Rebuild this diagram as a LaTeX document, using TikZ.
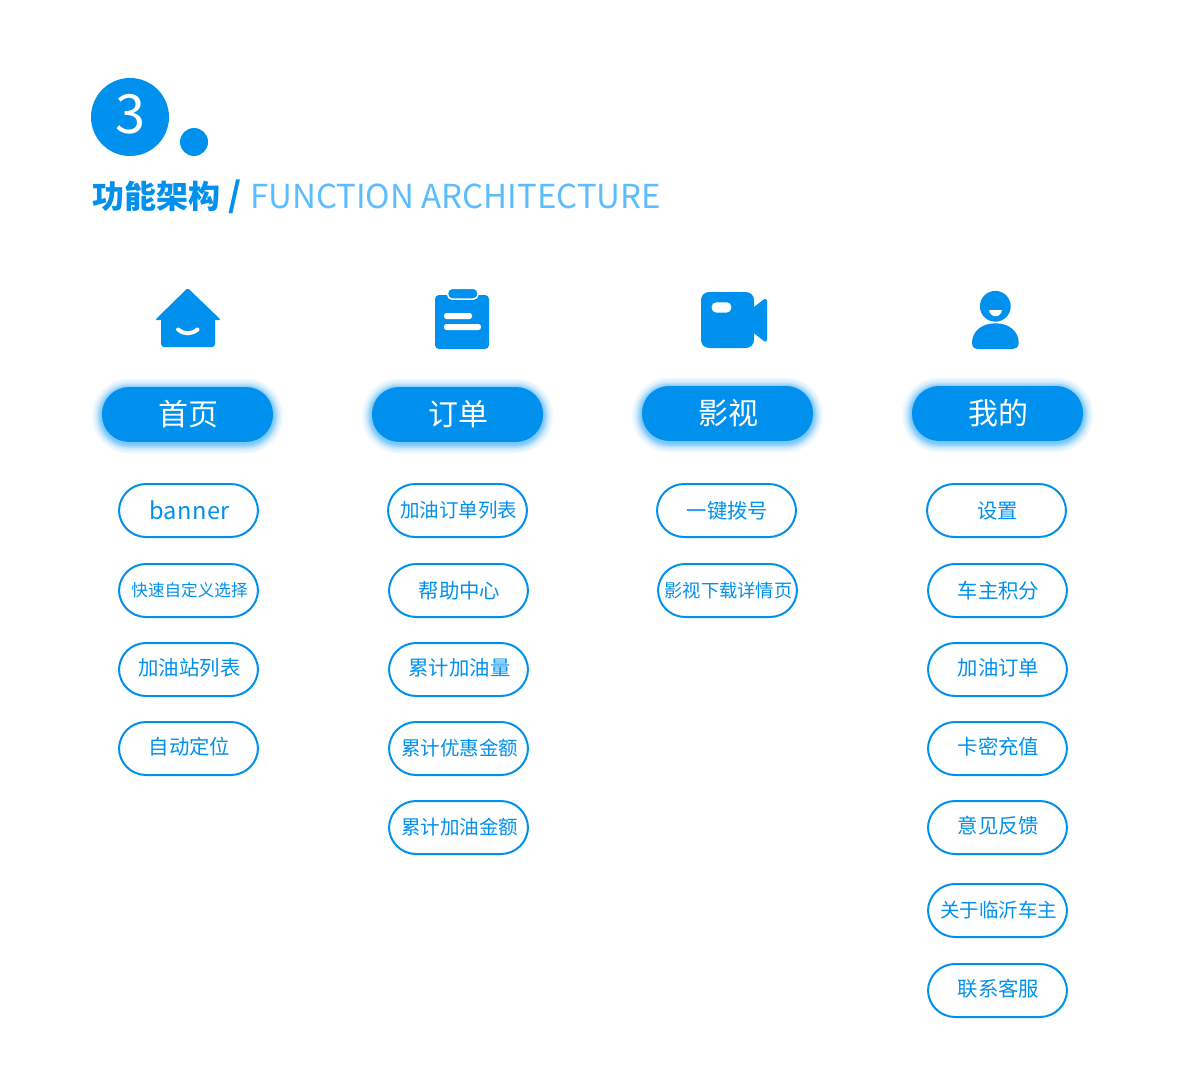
\documentclass[tikz,border=0pt]{standalone}
\usepackage{fontspec}
\setmainfont{Noto Sans CJK SC}
\usetikzlibrary{backgrounds}
\definecolor{mainblue}{HTML}{0091EE}
\definecolor{lightblue}{HTML}{5BBDFF}
\newfontfamily\trackedfont[LetterSpace=2]{Noto Sans CJK SC}
\tikzset{
  headpill/.style={rectangle, rounded corners=27pt, minimum width=171pt, minimum height=55pt, inner sep=0, fill=mainblue, text=white, font=\fontsize{30}{36}\selectfont, execute at begin node={\hspace*{2pt}}},
  pillglow/.style={rectangle, rounded corners=27pt, minimum width=171pt, minimum height=55pt, inner sep=0, draw=mainblue, opacity=0.05},
  itempill/.style={rectangle, rounded corners=27pt, minimum width=139pt, minimum height=53pt, inner sep=0, draw=mainblue, line width=2pt, fill=white, text=mainblue, font=\fontsize{20.4}{24}\selectfont, execute at begin node={\hspace*{2pt}}},
  smallitem/.style={itempill, font=\fontsize{19.5}{24}\selectfont},
  tinyitem/.style={itempill, font=\fontsize{18.3}{24}\selectfont},
  minitem/.style={itempill, font=\fontsize{16.6}{24}\selectfont},
  raised/.style={text height=14pt, text depth=2pt},
  iconfill/.style={fill=mainblue, draw=none},
  iconcut/.style={fill=white, draw=none},
}
\begin{document}
\begin{tikzpicture}[x=1pt,y=-1pt]
\useasboundingbox (0,0) rectangle (1200,1081);

    % Section number
    \fill[mainblue] (130,117) circle (39);
    \fill[mainblue] (194,142) circle (14);
    \node (num) at (130.5,114) [text=white, inner sep=0, font=\fontsize{54}{60}\selectfont] {3};

    % Title
    \node (titlecn) at (92,196) [anchor=west, inner sep=0, text=mainblue, font=\fontsize{32}{38}\selectfont\bfseries] {功能架构};
    \node (slash) at (235.5,197) [inner sep=0, text=mainblue, font=\fontsize{34}{40}\selectfont\bfseries] {/};
    \node (titleen) at (250,196) [anchor=west, inner sep=0, text=lightblue, font=\fontsize{33}{38}\selectfont] {FUNCTION ARCHITECTURE};

    % Icon: house
    \fill[iconfill, rounded corners=1.5pt] (187.7,288) -- (221,320) -- (155,320) -- cycle;
    \fill[iconfill, rounded corners=3pt] (161,316) rectangle (215,347);
    \draw[white, line width=4pt, line cap=round] (178,329.5) .. controls (183,334.5) and (192,334.5) .. (197.5,329.5);

    % Icon: clipboard
    \fill[iconfill, rounded corners=4pt] (435,295) rectangle (489,349);
    \fill[mainblue, draw=white, line width=1.5pt, rounded corners=4.5pt] (447.6,288.3) rectangle (478,299);
    \fill[iconcut, rounded corners=2.5pt] (444,313) rectangle (472,319);
    \fill[iconcut, rounded corners=2.5pt] (444,324) rectangle (481,330);

    % Icon: camera
    \fill[iconfill, rounded corners=8pt] (701,292) rectangle (754,348);
    \fill[iconfill, rounded corners=4pt] (750,310) -- (767,297) -- (767,343.5) -- (750,330) -- cycle;
    \fill[iconcut, rounded corners=4.5pt] (711.7,302.3) rectangle (731.3,312.5);

    % Icon: person
    \fill[mainblue] (995.3,306.3) circle (15.4);
    \fill[white] (989.2,310) -- (1002,310) .. controls (1001.5,314) and (998.5,316.3) .. (995.6,316.3) .. controls (992.5,316.3) and (989.5,314) .. (989.2,310) -- cycle;
    \fill[iconfill] (972,343) .. controls (972,331) and (982,323.3) .. (995.3,323.3) .. controls (1009,323.3) and (1018.7,331) .. (1018.7,343) .. controls (1018.7,347) and (1016,349) .. (1013,349) -- (978,349) .. controls (974.5,349) and (972,347) .. (972,343) -- cycle;

    % Glow under the header pills
    \begin{scope}[on background layer]
    \foreach \cx/\cy in {187.5/416,457.5/416,727.5/415,997.5/415}
        \foreach \g in {1,2,3,4,5,6,7,8,9,10,12,14,17,20}
            \node at (\cx,\cy) [pillglow, line width=\g pt] {};
    \end{scope}

    % Header pills
    \node (home) at (187.5,414.5) [headpill] {首页};
    \node (orders) at (457.5,414.5) [headpill] {订单};
    \node (video) at (727.5,413.5) [headpill] {影视};
    \node (mine) at (997.5,413.5) [headpill] {我的};

    % Column 1
    \node (banner) at (188.5,510.5) [itempill, font=\fontsize{23.6}{28}\trackedfont] {banner};
    \node (quick) at (188.5,590.5) [minitem] {快速自定义选择};
    \node (stations) at (188.5,669.5) [itempill, raised] {加油站列表};
    \node (locate) at (188.5,748.5) [itempill, raised] {自动定位};

    % Column 2
    \node (orderlist) at (457.5,510.5) [smallitem] {加油订单列表};
    \node (help) at (458.5,590.5) [itempill] {帮助中心};
    \node (volume) at (458.5,669.5) [itempill, raised] {累计加油量};
    \node (discount) at (458.5,748.5) [smallitem] {累计优惠金额};
    \node (amount) at (458.5,827.5) [smallitem] {累计加油金额};

    % Column 3
    \node (dial) at (726.5,510.5) [itempill] {一键拨号};
    \node (download) at (727.5,590.5) [tinyitem] {影视下载详情页};

    % Column 4
    \node (settings) at (996.5,510.5) [itempill] {设置};
    \node (points) at (997.5,590.5) [itempill] {车主积分};
    \node (fuelorder) at (997.5,669.5) [itempill, raised] {加油订单};
    \node (recharge) at (997.5,748.5) [itempill, raised] {卡密充值};
    \node (feedback) at (997.5,827.5) [itempill, raised] {意见反馈};
    \node (about) at (997.5,910.5) [smallitem] {关于临沂车主};
    \node (service) at (997.5,990.5) [itempill, raised] {联系客服};

\end{tikzpicture}
\end{document}
